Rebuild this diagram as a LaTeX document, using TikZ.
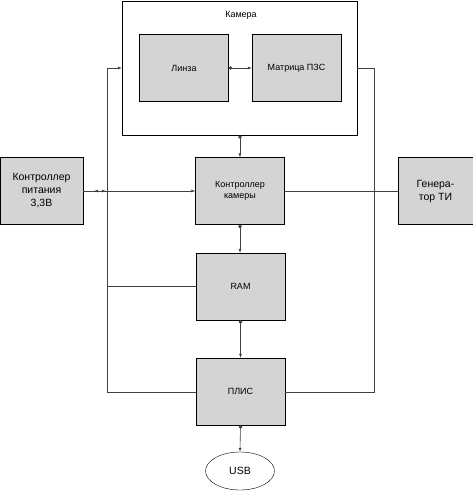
\documentclass[tikz,border=0pt]{standalone}
\usepackage{fontspec}
\setmainfont{Liberation Sans}
\usepackage{tikz}
\usetikzlibrary{arrows.meta,positioning,shapes.geometric}

\tikzset{
  blok/.style={draw, fill=black!17, minimum width=89pt, minimum height=67pt,
    align=center, inner sep=1pt, font=\fontsize{9}{11}\selectfont},
  bigblok/.style={blok, font=\fontsize{10.5}{13}\selectfont},
  sv/.style={draw=black!75, line width=0.6pt},
  tip/.style={-{Latex[length=4pt,width=3pt]}},
  dottip/.style={{Circle[length=3.5pt]}-{Latex[length=4pt,width=3pt]}},
}

\begin{document}
\begin{tikzpicture}[x=1pt,y=-1pt]
        \useasboundingbox (0,0) rectangle (473,491);
        % camera frame
        \node[draw, minimum width=235pt, minimum height=134pt, inner sep=0pt] (cam) at (239.5,68) {};
        \node[font=\fontsize{9}{11}\selectfont] (camlbl) at (241,15) {Камера};
        \node[blok] (lens) at (184,68) {Линза};
        \node[blok] (ccd) at (296.5,68) {Матрица ПЗС};
        % main blocks
        \node[blok] (ctrl) at (240,191) {Контроллер\\камеры};
        \node[blok] (ram) at (240.5,286.5) {RAM};
        \node[blok] (fpga) at (240.5,391.5) {ПЛИС};
        \node[bigblok, minimum width=83pt] (pwr) at (41.5,191) {Контроллер\\питания\\3,3В};
        \node[bigblok, minimum width=75pt] (gen) at (435.5,191) {Генера-\\тор ТИ};
        \node[draw, ellipse, minimum width=69pt, minimum height=38pt, inner sep=0pt,
          font=\fontsize{10.5}{13}\selectfont] (usb) at (240,471) {USB};
        % bus corners
        \coordinate (lt) at (107,68);
        \coordinate (lb) at (107,392);
        \coordinate (rt) at (374,68);
        \coordinate (rb) at (374,392);
        \coordinate (ja) at (94,191);
        \coordinate (jb) at (106,191);

        \draw[sv, dottip] (lens.east) -- (ccd.west);
        \draw[sv, dottip] (cam.south -| ctrl.north) -- (ctrl.north);
        \draw[sv, dottip] (ctrl.south) -- (ram.north -| ctrl.south);
        \draw[sv, dottip] (ram.south) -- (fpga.north);
        \draw[sv, dottip] (fpga.south) -- (usb.north);
        \draw[sv, tip] (pwr.east) -- (ctrl.west);
        \draw[sv, {Latex[length=4pt,width=3pt]}-{Latex[length=4pt,width=3pt]}] (ja) -- (jb);
        \draw[sv] (ctrl.east) -- (gen.west);
        \draw[sv, tip] (fpga.west |- lb) -- (lb) -- (lt) -- (cam.west |- lt);
        \draw[sv] (ram.west) -- (ram.west -| lt);
        \draw[sv] (fpga.east |- rb) -- (rb) -- (rt) -- (cam.east |- rt);
\end{tikzpicture}
\end{document}
